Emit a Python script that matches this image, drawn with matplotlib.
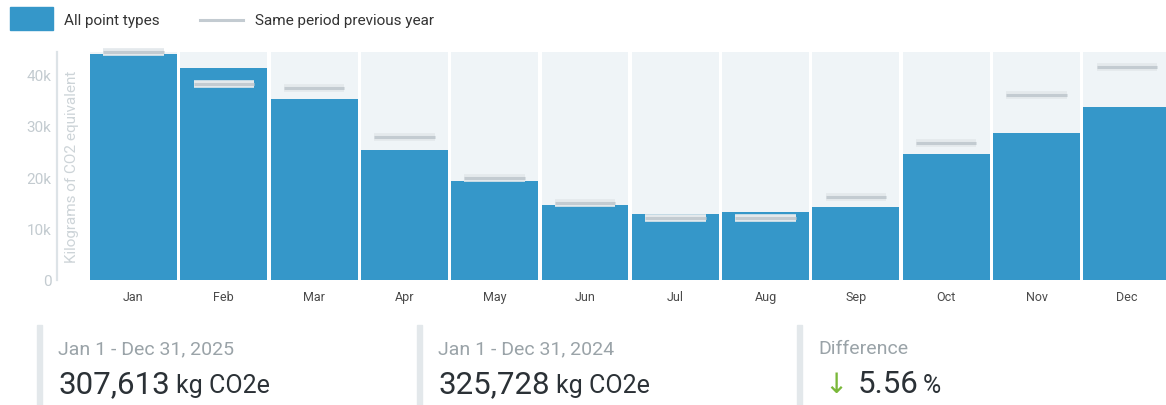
import matplotlib.pyplot as plt
import matplotlib.patheffects as pe
from matplotlib.patches import Rectangle
from matplotlib.lines import Line2D
import numpy as np

plt.rcParams['font.family'] = ['Roboto', 'DejaVu Sans']

# monthly emissions, thousands of kg CO2e
months = ['Jan', 'Feb', 'Mar', 'Apr', 'May', 'Jun', 'Jul', 'Aug', 'Sep', 'Oct', 'Nov', 'Dec']
current = [44.0, 41.2, 35.2, 25.2, 19.3, 14.5, 12.9, 13.2, 14.1, 24.6, 28.6, 33.6]
previous = [44.4, 38.1, 37.4, 27.9, 19.8, 14.9, 12.1, 12.1, 16.2, 26.7, 35.9, 41.5]
yticks = [0, 10, 20, 30, 40]
ytick_labels = ['0', '10k', '20k', '30k', '40k']

panels = [
    ('Jan 1 - Dec 31, 2025', '307,613', 'kg CO2e'),
    ('Jan 1 - Dec 31, 2024', '325,728', 'kg CO2e'),
    ('Difference', '5.56', '%'),
]

BAR = '#3597c9'
PREV = '#c3cbd1'
W, H = 1166, 406

fig = plt.figure(figsize=(W / 100, H / 100), dpi=100)


def fx(x):
    return x / W


def fy(y):
    return 1 - y / H


ax = fig.add_axes([fx(57), fy(281), fx(W - 57), (281 - 52.7) / H])
x = np.arange(len(months))
ymax = 44.4
ax.set_xlim(-0.847, 11.434)
ax.set_ylim(0, ymax)

ax.bar(x, [ymax] * len(months), width=0.963, color='#eff4f7', zorder=0)
ax.bar(x, current, width=0.963, color=BAR, zorder=1)
ax.hlines(previous, x - 0.335, x + 0.335, colors=PREV, linewidth=2.2, zorder=3,
          clip_on=False,
          path_effects=[pe.Stroke(linewidth=5.5, foreground='#e4e9ec'), pe.Normal()])

ax.set_yticks(yticks)
ax.set_yticklabels(ytick_labels)
ax.set_xticks(x)
ax.set_xticklabels(months)
ax.tick_params(axis='y', length=0, pad=4, labelsize=11, labelcolor='#c3cbd0')
ax.tick_params(axis='x', length=0, pad=7, labelsize=9, labelcolor='#4a4a4a')
for s in ['top', 'right', 'bottom']:
    ax.spines[s].set_visible(False)
ax.spines['left'].set_color('#dde3e7')
ax.spines['left'].set_linewidth(1.6)

fig.text(fx(72), fy(167), 'Kilograms of CO2 equivalent', rotation=90,
         ha='center', va='center', fontsize=11, color='#cdd4d8')

# legend
fig.add_artist(Rectangle((fx(10), fy(31)), fx(43), 23 / H, color=BAR,
                         transform=fig.transFigure))
fig.text(fx(64), fy(20.5), 'All point types', ha='left', va='center',
         fontsize=11, color='#333333')
fig.add_artist(Line2D([fx(200), fx(243)], [fy(20.5), fy(20.5)], color=PREV,
                      linewidth=2.2, transform=fig.transFigure))
fig.text(fx(255), fy(20.5), 'Same period previous year', ha='left', va='center',
         fontsize=11, color='#333333')

# summary panels
bar_x = [37, 417, 797]
for i, (title, value, unit) in enumerate(panels):
    bx = bar_x[i]
    fig.add_artist(Rectangle((fx(bx), 0), fx(5), (406 - 326) / H, color='#e3e8eb',
                             transform=fig.transFigure))
    fig.text(fx(bx + 21), fy(354), title, ha='left', va='baseline',
             fontsize=14, color='#9aa3a8')
    if i < 2:
        fig.text(fx(bx + 21), fy(393.5), value, ha='left', va='baseline',
                 fontsize=22.5, color='#2b3136')
        fig.text(fx(bx + 139), fy(393.5), unit, ha='left', va='baseline',
                 fontsize=18, color='#2b3136')
    else:
        fig.text(fx(bx + 27), fy(393.5), '\u2193', ha='left', va='baseline',
                 fontsize=20, color='#7ab83a', family=['DejaVu Sans'])
        fig.text(fx(bx + 61), fy(393.5), value, ha='left', va='baseline',
                 fontsize=22.5, color='#2b3136')
        fig.text(fx(bx + 126), fy(393.5), unit, ha='left', va='baseline',
                 fontsize=18, color='#2b3136')

fig.savefig('out.png', dpi=100)
